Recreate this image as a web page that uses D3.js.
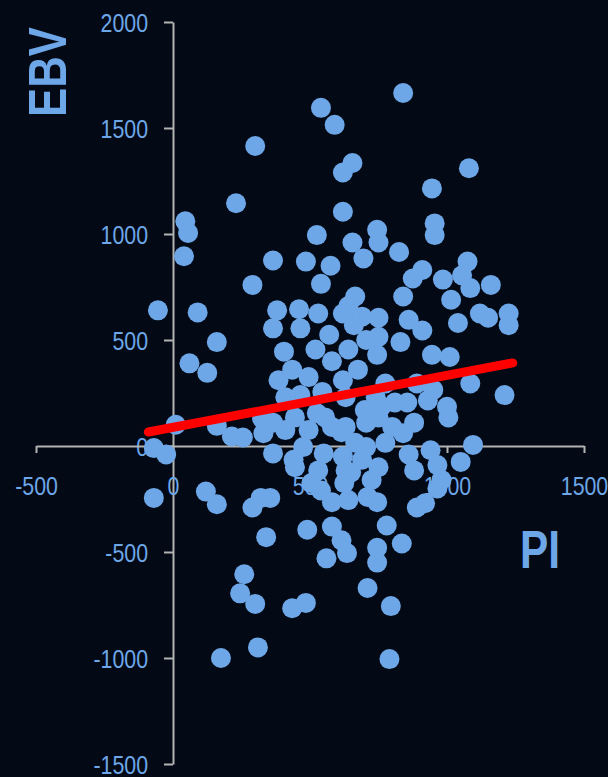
<!DOCTYPE html>
<html>
<head>
<meta charset="utf-8">
<script src="https://cdn.jsdelivr.net/npm/d3@7"></script>
<style>
  html, body { margin: 0; padding: 0; background: #030a15; }
  svg { display: block; }
  .tick text, .lbl { font-family: "Liberation Sans Narrow", "Arial Narrow", "Liberation Sans", Arial, sans-serif; }
</style>
</head>
<body>
<script>
// PI (x) and EBV (y) for each animal
const piValues = [
  840, 540, 590, 300, 1080, 655, 620, 945, 230, 620,
  45, 55, 525, 955, 955, 745, 750, 655, 40, 365,
  485, 575, 695, 825, 910, 1075, 1055, 290, 540, 875,
  985, 1085, 1160, 665, 640, 840, -55, 90, 380, 460,
  530, 750, 1015, 1120, 1150, 1225, 1225, 1040, 860, 910,
  365, 465, 660, 570, 160, 705, 750, 830, 405, 520,
  580, 640, 745, 945, 1010, 60, 125, 675, 435, 385,
  495, 775, 545, 630, 740, 810, 890, 950, 930, 1000,
  1005, 1085, 1210, 855, 445, 365, 555, 630, 705, 750,
  800, 495, 410, 880, 840, 10, 160, 215, 255, 325,
  330, -70, -25, 365, 475, 550, 620, 705, 775, 445,
  530, 630, 750, 860, 940, 965, 1095, 1050, 880, 440,
  980, 965, 890, 920, 780, 835, 745, 745, 580, 615,
  635, 560, 490, 525, 615, 700, 760, 540, 580, 505,
  710, 745, 650, 625, 725, 690, 355, 340, 710, 795,
  435, 485, 790, -70, 120, 160, 290, 320, 260, 245,
  300, 310, 175, 640, 410, 620, 690, 620, 580, 665,
  465
];
const ebvValues = [
  1665, 1595, 1515, 1415, 1310, 1335, 1290, 1215, 1145, 1105,
  1060, 1005, 995, 1050, 995, 1020, 960, 960, 895, 875,
  870, 850, 885, 915, 830, 870, 805, 760, 765, 790,
  785, 745, 760, 705, 660, 705, 640, 630, 640, 645,
  625, 605, 690, 625, 605, 625, 570, 580, 595, 545,
  555, 555, 570, 525, 490, 500, 515, 490, 445, 455,
  400, 455, 430, 430, 420, 390, 345, 360, 360, 310,
  325, 295, 255, 230, 230, 205, 295, 265, 215, 185,
  135, 295, 240, 205, 135, 110, 135, 90, 110, 135,
  90, 75, 75, 110, 60, 100, 95, 45, 40, 130,
  60, -10, -40, -35, -5, -35, -50, -5, 15, -100,
  -115, -115, -100, -40, -20, -90, 5, -75, -115, -65,
  -160, -200, -290, -270, -375, -460, -480, -550, -380, -445,
  -505, -530, -395, 155, 65, 170, 185, -210, -265, -175,
  -240, -265, -125, -175, -160, -65, -245, -430, -670, -755,
  -765, -740, -1005, -245, -215, -275, -290, -245, -605, -695,
  -745, -950, -1000, -255, 230, 625, 610, 310, 90, 15,
  240
];

// Fitted trend line end points
const trendPI = [-90, 1240];
const trendEBV = [66, 392];

// Axis ticks
const xTicks = [-500, 0, 500, 1000, 1500];
const yTicks = [-1500, -1000, -500, 0, 500, 1000, 1500, 2000];

const width = 608, height = 777;
const blue = "#6ea7e8";
const axisGrey = "#b3b3b3";

const svg = d3.select("body").append("svg")
  .attr("width", width).attr("height", height);

svg.append("rect").attr("width", width).attr("height", height).attr("fill", "#030a15");

const x = d3.scaleLinear().domain([-500, 1500]).range([36, 584]);
const y = d3.scaleLinear().domain([-1500, 2000]).range([764, 22]);

// Squeeze text horizontally to a narrow face
function narrow(sel, k) {
  sel.each(function () {
    const w = this.getComputedTextLength();
    d3.select(this).attr("textLength", w * k).attr("lengthAdjust", "spacingAndGlyphs");
  });
}

// Y axis through PI = 0
const yAxis = svg.append("g")
  .attr("transform", `translate(${x(0)},0)`)
  .call(d3.axisLeft(y).tickValues(yTicks).tickSize(9).tickSizeOuter(0).tickPadding(16)
    .tickFormat(d => String(d)));

// X axis through EBV = 0
const xAxis = svg.append("g")
  .attr("transform", `translate(0,${y(0)})`)
  .call(d3.axisBottom(x).tickValues(xTicks).tickSize(7).tickSizeOuter(0).tickPadding(24)
    .tickFormat(d => String(d)));

[xAxis, yAxis].forEach(g => {
  g.select(".domain").attr("stroke", axisGrey).attr("stroke-width", 2);
  g.selectAll(".tick line").attr("stroke", axisGrey).attr("stroke-width", 2);
  g.selectAll(".tick text").attr("fill", blue).attr("font-size", 26).call(narrow, 0.82);
});
yAxis.selectAll(".tick text").attr("dy", "0.36em");

// Axis titles
svg.append("text").attr("class", "lbl")
  .attr("transform", "translate(66,72) rotate(-90)")
  .attr("text-anchor", "middle")
  .attr("font-size", 54).attr("font-weight", "bold")
  .attr("fill", blue).text("EBV").call(narrow, 0.81);

svg.append("text").attr("class", "lbl")
  .attr("x", 520).attr("y", 568)
  .attr("font-size", 53).attr("font-weight", "bold")
  .attr("fill", blue).text("PI").call(narrow, 0.8);

// Scatter points
svg.append("g").selectAll("circle")
  .data(d3.range(piValues.length))
  .join("circle")
  .attr("cx", i => x(piValues[i]))
  .attr("cy", i => y(ebvValues[i]))
  .attr("r", 10)
  .attr("fill", blue);

// Trend line
svg.append("line")
  .attr("x1", x(trendPI[0])).attr("y1", y(trendEBV[0]))
  .attr("x2", x(trendPI[1])).attr("y2", y(trendEBV[1]))
  .attr("stroke", "#ff0000").attr("stroke-width", 9)
  .attr("stroke-linecap", "round");
</script>
</body>
</html>
